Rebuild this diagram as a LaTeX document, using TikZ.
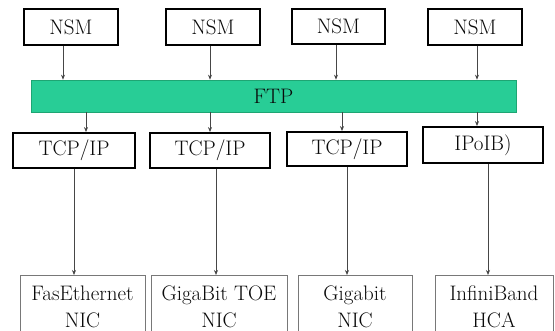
\documentclass[tikz,border=0pt]{standalone}
\usetikzlibrary{arrows.meta}
\definecolor{ftpgreen}{RGB}{40,205,150}
\definecolor{ftpborder}{RGB}{30,165,115}
\definecolor{linegrey}{RGB}{70,70,70}
\definecolor{nicgrey}{RGB}{120,120,120}
\definecolor{txt}{RGB}{10,10,10}
\begin{document}
\begin{tikzpicture}[x=1pt,y=-1pt,
  topbox/.style={draw=black,line width=1.8pt,rectangle,inner sep=0pt,text=txt,font=\fontsize{21}{23}\selectfont},
  nicbox/.style={draw=nicgrey,line width=0.9pt,rectangle,inner sep=0pt,align=center,anchor=north,text=txt,
     font=\fontsize{21}{27}\selectfont,minimum height=62pt,text depth=0pt},
  arr/.style={draw=linegrey,line width=0.7pt,-{Stealth[length=5pt,width=4pt]}}]
\useasboundingbox (0,0) rectangle (555,331);
\clip (0,0) rectangle (555,331);
\fill[white] (0,0) rectangle (555,331);
% NSM boxes
\node[topbox,minimum width=94pt,minimum height=36pt] (nsm1) at (71,27) {NSM};
\node[topbox,minimum width=94pt,minimum height=36pt] (nsm2) at (213,27) {NSM};
\node[topbox,minimum width=93pt,minimum height=35pt] (nsm3) at (338.5,26.5) {NSM};
\node[topbox,minimum width=94pt,minimum height=36pt] (nsm4) at (475,27) {NSM};
% FTP bar
\node[fill=ftpgreen,draw=ftpborder,line width=0.6pt,minimum width=485pt,minimum height=32pt,inner sep=0pt,
  text=txt,font=\fontsize{21}{23}\selectfont] (ftp) at (273.5,96) {FTP};
% TCP boxes
\node[topbox,minimum width=122pt,minimum height=35pt] (tcp1) at (74,150.5) {TCP/IP};
\node[topbox,minimum width=120pt,minimum height=35pt] (tcp2) at (210,150.5) {TCP/IP};
\node[topbox,minimum width=120pt,minimum height=34pt] (tcp3) at (347,149) {TCP/IP};
\node[topbox,minimum width=120pt,minimum height=36pt] (tcp4) at (483,145) {IPoIB)};
% NIC boxes
\node[nicbox,minimum width=125pt] (nic1) at (82.5,275) {FasEthernet\\NIC};
\node[nicbox,minimum width=136pt] (nic2) at (219,275) {GigaBit TOE\\NIC};
\node[nicbox,minimum width=114pt] (nic3) at (355,275) {Gigabit\\NIC};
\node[nicbox,minimum width=118pt] (nic4) at (494,275) {InfiniBand\\HCA};
% arrow x positions
\coordinate (a1) at (63,0);  \coordinate (a2) at (210,0);
\coordinate (a3) at (336,0); \coordinate (a4) at (477,0);
\coordinate (b1) at (86,0);  \coordinate (b2) at (210,0);
\coordinate (b3) at (342,0); \coordinate (b4) at (477,0);
\coordinate (c1) at (74,0);  \coordinate (c2) at (216,0);
\coordinate (c3) at (347,0); \coordinate (c4) at (488,0);
% arrows NSM -> FTP
\draw[arr] (nsm1.south -| a1) -- (ftp.north -| a1);
\draw[arr] (nsm2.south -| a2) -- (ftp.north -| a2);
\draw[arr] (nsm3.south -| a3) -- (ftp.north -| a3);
\draw[arr] (nsm4.south -| a4) -- (ftp.north -| a4);
% arrows FTP -> TCP
\draw[arr] (ftp.south -| b1) -- (tcp1.north -| b1);
\draw[arr] (ftp.south -| b2) -- (tcp2.north -| b2);
\draw[arr] (ftp.south -| b3) -- (tcp3.north -| b3);
\draw[arr] (ftp.south -| b4) -- (tcp4.north -| b4);
% arrows TCP -> NIC
\draw[arr] (tcp1.south -| c1) -- (nic1.north -| c1);
\draw[arr] (tcp2.south -| c2) -- (nic2.north -| c2);
\draw[arr] (tcp3.south -| c3) -- (nic3.north -| c3);
\draw[arr] (tcp4.south -| c4) -- (nic4.north -| c4);
\end{tikzpicture}
\end{document}
